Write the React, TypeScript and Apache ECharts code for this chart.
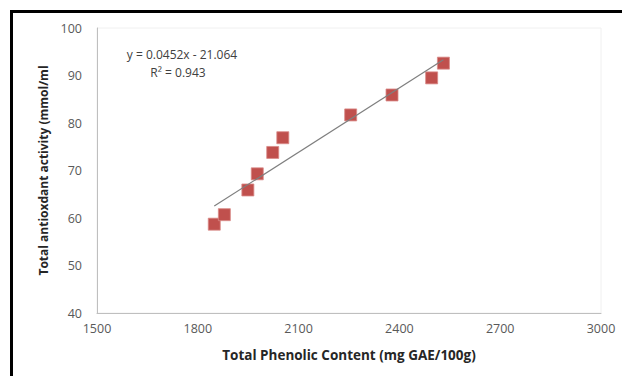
import React, { useEffect, useRef } from "react";
import * as echarts from "echarts";

const phenolic = [1849, 1879, 1949, 1977, 2023, 2053, 2255, 2378, 2496, 2531];
const antioxidant = [58.7, 60.7, 65.9, 69.3, 73.8, 76.9, 81.7, 85.9, 89.5, 92.6];
const trendSlope = 0.0452;
const trendIntercept = -21.064;
const trendRange = [1849, 2531];
const xTitle = "Total Phenolic Content (mg GAE/100g)";
const yTitle = "Total antioxdant activity (mmol/ml";
const equationText = "y = 0.0452x - 21.064";
const r2Text = "R² = 0.943";

export default function App() {
  const ref = useRef<HTMLDivElement>(null);
  useEffect(() => {
    if (!ref.current) return;
    const chart = echarts.init(ref.current, undefined, { renderer: "svg" });
    const font = "'Open Sans', 'Liberation Sans', sans-serif";
    const points = phenolic.map((x, i) => [x, antioxidant[i]]);
    const trend = trendRange.map((x) => [x, trendSlope * x + trendIntercept]);
    chart.setOption({
      animation: false,
      backgroundColor: "#ffffff",
      grid: {
        left: 97,
        right: 21,
        top: 28,
        bottom: 63,
        show: true,
        borderColor: "#f0f0f0",
        borderWidth: 1,
      },
      xAxis: {
        type: "value",
        min: 1500,
        max: 3000,
        interval: 300,
        name: xTitle,
        nameLocation: "middle",
        nameGap: 35,
        nameTextStyle: { fontFamily: font, fontWeight: "bold", fontSize: 13.5, color: "#262626" },
        axisLine: { show: true, lineStyle: { color: "#bfbfbf", width: 1 } },
        axisTick: { show: false },
        splitLine: { show: false },
        axisLabel: {
          fontFamily: font,
          fontSize: 12.5,
          color: "#595959",
          margin: 9,
          formatter: (v: number) => String(v),
        },
      },
      yAxis: {
        type: "value",
        min: 40,
        max: 100,
        interval: 10,
        name: yTitle,
        nameLocation: "middle",
        nameGap: 47,
        nameRotate: 90,
        nameTextStyle: { fontFamily: font, fontWeight: "bold", fontSize: 12, color: "#262626" },
        axisLine: { show: true, lineStyle: { color: "#bfbfbf", width: 1 } },
        axisTick: { show: false },
        splitLine: { show: false },
        axisLabel: { fontFamily: font, fontSize: 12.5, color: "#595959", margin: 15 },
      },
      graphic: [
        {
          type: "rect",
          shape: { x: 11.5, y: 11.5, width: 700, height: 500 },
          style: { fill: "none", stroke: "#000000", lineWidth: 3 },
          silent: true,
        },
        {
          type: "text",
          x: 182,
          y: 54,
          style: {
            text: equationText,
            font: `12px ${font}`,
            fill: "#404040",
            textAlign: "center",
            textVerticalAlign: "middle",
          },
        },
        {
          type: "text",
          x: 178,
          y: 72,
          style: {
            text: r2Text,
            font: `12px ${font}`,
            fill: "#404040",
            textAlign: "center",
            textVerticalAlign: "middle",
          },
        },
      ],
      series: [
        {
          type: "line",
          data: trend,
          symbol: "none",
          lineStyle: { color: "#7f7f7f", width: 1.2 },
          z: 3,
        },
        {
          type: "scatter",
          data: points,
          symbol: "rect",
          symbolSize: 12,
          itemStyle: { color: "#c0504d", borderColor: "#d98a88", borderWidth: 0.8, opacity: 1 },
          z: 2,
        },
      ],
    });
    return () => chart.dispose();
  }, []);
  return (
    <div
      ref={ref}
      style={{ position: "absolute", left: 0, top: 0, width: 622, height: 376 }}
    />
  );
}
